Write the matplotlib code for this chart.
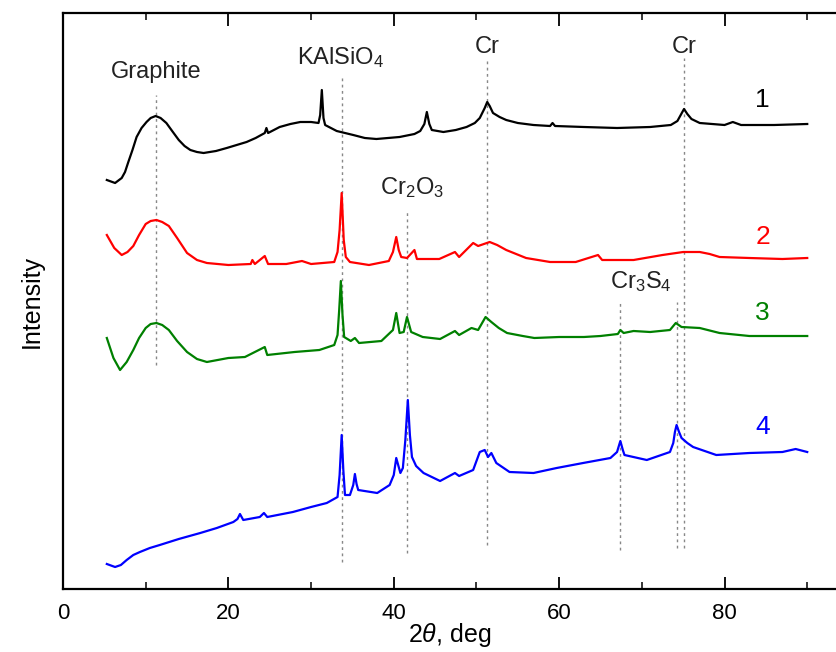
import numpy as np
import matplotlib.pyplot as plt

plt.rcParams['font.family'] = ['Liberation Sans', 'DejaVu Sans']
plt.rcParams['mathtext.fontset'] = 'custom'
plt.rcParams['mathtext.rm'] = 'Liberation Sans'
plt.rcParams['mathtext.it'] = 'Liberation Sans:italic'

# 2theta (deg) / intensity (arb. units, offset traces)
x1 = [5.3, 6.3, 7.1, 7.5, 7.9, 8.4, 8.9, 9.5, 10.1, 10.6, 11.2, 11.8, 12.5, 13.2, 14.0, 14.7,
      15.4, 16.2, 17.0, 18.5, 19.8, 21.0, 22.2, 23.3, 24.4, 24.6, 24.8, 26.2, 27.5, 28.7, 30.0,
      30.9, 31.1, 31.3, 31.5, 31.7, 32.4, 33.1, 35.1, 36.5, 37.9, 40.7, 42.5, 43.2, 43.7, 44.0,
      44.3, 44.6, 46.0, 47.5, 48.8, 49.8, 50.4, 51.0, 51.3, 51.6, 52.0, 52.8, 53.6, 55.0, 56.9,
      58.9, 59.2, 59.5, 63, 67, 71, 73.5, 74.3, 74.7, 75.1, 75.5, 76.0, 77, 80, 81, 82, 86, 90]
y1 = [409, 406, 411, 417, 427, 439, 452, 461, 467, 471, 473, 471, 466, 458, 449, 443,
      439, 437, 436, 438, 441, 444, 447, 451, 456, 461, 456, 462, 465, 467, 467,
      466, 474, 499, 471, 464, 461, 458, 454, 451, 450, 452, 455, 458, 465, 477,
      465, 459, 457, 459, 462, 466, 471, 481, 487, 483, 476, 472, 469, 466, 464,
      463, 466, 463, 462, 461, 462, 464, 468, 474, 480, 475, 470, 466, 464, 467, 464, 464, 465]

x2 = [5.3, 6.2, 7.1, 7.8, 8.5, 9.2, 10.0, 10.6, 11.3, 12.0, 12.8, 13.8, 15.0, 16.2, 17.4, 20.0,
      22.7, 22.9, 23.2, 24.4, 24.8, 27, 28.9, 30, 32.8, 33.2, 33.45, 33.7, 33.95, 34.2, 34.7,
      37.0, 39.4, 39.9, 40.3, 40.6, 40.9, 41.6, 42.5, 42.8, 45.5, 47.4, 47.9, 49.6, 50.2, 51.6,
      52.5, 53.6, 56.0, 58.9, 62, 64.7, 65.2, 69, 72.5, 75, 77, 78.2, 79.4, 83, 87, 90]
y2 = [354, 341, 334, 337, 343, 354, 365, 368, 369, 367, 363, 351, 336, 329, 326, 324,
      325, 329, 325, 333, 325, 325, 328, 325, 327, 337, 359, 396, 349, 332, 327,
      324, 328, 337, 352, 339, 332, 331, 339, 330, 330, 337, 332, 346, 343, 347,
      344, 339, 331, 327, 327, 334, 329, 329, 334, 337, 337, 335, 332, 331, 330, 331]

x3 = [5.3, 6.1, 6.9, 7.7, 8.5, 9.2, 10.0, 10.6, 11.3, 12.0, 12.8, 13.8, 15.0, 16.2, 17.4, 20.0,
      22.0, 24.4, 24.7, 28, 31, 32.8, 33.2, 33.4, 33.6, 33.8, 34.0, 34.8, 35.3, 35.8, 38.5,
      39.9, 40.3, 40.7, 41.2, 41.6, 42.1, 43.5, 45.6, 47.4, 47.9, 49.4, 50.2, 51.1, 51.8, 52.7,
      53.7, 55.6, 57, 60, 63, 65, 67.1, 67.4, 67.8, 69.0, 71, 73.4, 74.1, 74.8, 77, 79.4,
      83, 87, 90]
y3 = [251, 231, 219, 227, 239, 251, 261, 265, 266, 264, 259, 248, 237, 230, 227, 231,
      232, 242, 234, 237, 239, 244, 254, 279, 308, 274, 252, 248, 251, 246, 248,
      259, 276, 256, 257, 272, 257, 252, 250, 258, 254, 261, 259, 272, 267, 261,
      256, 253, 251, 252, 252, 253, 255, 259, 256, 258, 257, 259, 266, 262, 261, 256,
      253, 253, 253]

x4 = [5.3, 6.3, 7.0, 7.7, 8.5, 9.3, 10.5, 11.7, 14.0, 16.6, 18.6, 20.6, 21.1, 21.4, 21.8, 23.8,
      24.3, 24.7, 27.8, 30.0, 31.9, 33.2, 33.45, 33.7, 33.9, 34.1, 34.7, 35.1, 35.3, 35.5, 35.7,
      38.0, 39.5, 40.0, 40.3, 40.8, 41.1, 41.4, 41.7, 41.95, 42.2, 42.7, 43.6, 45.6, 47.4, 47.9,
      49.6, 50.4, 51.0, 51.4, 51.8, 52.4, 54.0, 56.9, 59.7, 62.9, 66.2, 67.0, 67.4, 67.7, 67.9,
      70.6, 73.4, 73.8, 74.0, 74.2, 74.5, 74.8, 75.5, 76.2, 79.0, 83, 87, 88.6, 90]
y4 = [25, 22, 24, 29, 34, 37, 41, 44, 50, 56, 61, 67, 70, 75, 69, 72,
      76, 72, 77, 82, 86, 92, 114, 154, 119, 94, 94, 104, 115, 105, 99,
      96, 104, 114, 131, 116, 121, 149, 189, 154, 132, 123, 116, 108, 116, 113,
      119, 137, 139, 132, 136, 126, 117, 116, 121, 126, 131, 137, 148, 139, 134,
      129, 137, 146, 157, 164, 157, 151, 146, 142, 134, 136, 137, 140, 137]

# reference lines: position, lower end, upper end
ref_x = [11.25, 33.7, 41.6, 51.3, 67.4, 74.2, 75.1]
ref_lo = [224, 27, 36, 44, 39, 41, 41]
ref_hi = [494, 514, 377, 531, 286, 287, 531]

phase_names = ['Graphite', 'KAlSiO$_4$', 'Cr', 'Cr', 'Cr$_2$O$_3$', 'Cr$_3$S$_4$']
phase_x = [11.3, 33.6, 51.3, 75.1, 42.2, 69.9]
phase_y = [517, 531, 542, 542, 401, 307]

curve_names = ['1', '2', '3', '4']
curve_y = [489, 352, 276, 162]
colors = ['black', 'red', 'green', 'blue']

fig = plt.figure(figsize=(8.37, 6.52), dpi=100)
ax = fig.add_axes([63/837, 63/652, 774/837, 576/652])

ax.vlines(ref_x, ref_lo, ref_hi, colors='#888888', linestyles=(0, (2, 2.5)), linewidth=1)

for xs, ys, c in zip([x1, x2, x3, x4], [y1, y2, y3, y4], colors):
    ax.plot(xs, ys, color=c, linewidth=1.6)

for name, xx, yy in zip(phase_names, phase_x, phase_y):
    ax.text(xx, yy, name, ha='center', va='center', fontsize=17, color='#222222')

for name, yy, c in zip(curve_names, curve_y, colors):
    ax.text(84.6, yy, name, ha='center', va='center', fontsize=19, color=c)

ax.set_xlim(0, 93.6)
ax.set_ylim(0, 576)
ax.set_xticks([0, 20, 40, 60, 80])
ax.set_xticks([10, 30, 50, 70, 90], minor=True)
ax.set_yticks([])
ax.tick_params(axis='x', which='both', direction='in', top=True, labelsize=16, pad=10)
ax.tick_params(axis='x', which='major', length=9, width=1.3)
ax.tick_params(axis='x', which='minor', length=5, width=1.1)
ax.spines['right'].set_visible(False)
for s in ['left', 'top', 'bottom']:
    ax.spines[s].set_linewidth(1.6)

ax.set_xlabel(r'2$\theta$, deg', fontsize=18, labelpad=-2)
ax.set_ylabel('Intensity', fontsize=18, labelpad=14)

fig.savefig('out.png', dpi=100)
